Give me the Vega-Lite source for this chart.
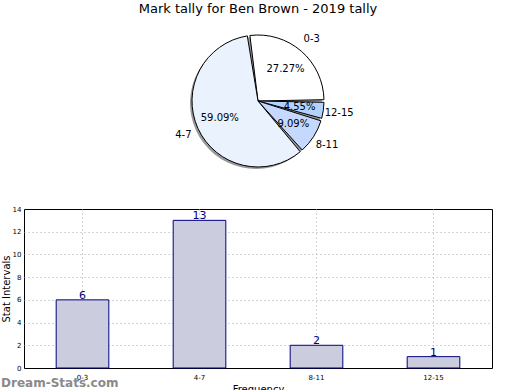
{
  "$schema": "https://vega.github.io/schema/vega-lite/v6.json",
  "padding": {"left": 0, "top": 3, "right": 5, "bottom": 0},
  "spacing": 24,
  "config": {"font": "DejaVu Sans", "view": {"stroke": null}},
  "vconcat": [
    {
      "width": 468,
      "height": 158,
      "title": {"text": "Mark tally for Ben Brown - 2019 tally", "fontSize": 13, "fontWeight": "normal", "color": "black", "offset": 6},
      "data": {"values": [
        {"label": "0-3", "value": 6, "pct": "27.27%", "ord": 1},
        {"label": "12-15", "value": 1, "pct": "4.55%", "ord": 2},
        {"label": "8-11", "value": 2, "pct": "9.09%", "ord": 3},
        {"label": "4-7", "value": 13, "pct": "59.09%", "ord": 4}
      ]},
      "encoding": {
        "theta": {"field": "value", "type": "quantitative", "stack": true, "scale": {"range": [-0.1428, 6.1404]}},
        "order": {"field": "ord", "type": "quantitative"}
      },
      "layer": [
        {
          "mark": {"type": "arc", "outerRadius": 66, "padAngle": 0.04, "fill": "#999999", "xOffset": -2, "yOffset": 2}
        },
        {
          "mark": {"type": "arc", "outerRadius": 66, "padAngle": 0.04, "stroke": "black", "strokeWidth": 1},
          "encoding": {
            "color": {"field": "label", "type": "nominal", "legend": null,
              "scale": {"domain": ["0-3", "4-7", "8-11", "12-15"], "range": ["#ffffff", "#eaf2fe", "#c5d9fe", "#b3d3fe"]}}
          }
        },
        {
          "mark": {"type": "text", "radius": 42, "fontSize": 10, "color": "black"},
          "encoding": {"text": {"field": "pct", "type": "nominal"}}
        },
        {
          "mark": {"type": "text", "radius": 82, "fontSize": 10, "color": "black"},
          "encoding": {"text": {"field": "label", "type": "nominal"}}
        }
      ]
    },
    {
      "width": 468,
      "height": 159,
      "view": {"stroke": "black", "strokeWidth": 1},
      "title": {"text": "Dream-Stats.com", "orient": "bottom", "anchor": "start", "frame": "bounds", "fontSize": 12, "fontWeight": "bold", "color": "#8a8a8a", "opacity": 0.85, "offset": -16},
      "data": {"values": [
        {"freq": "0-3", "count": 6},
        {"freq": "4-7", "count": 13},
        {"freq": "8-11", "count": 2},
        {"freq": "12-15", "count": 1}
      ]},
      "encoding": {
        "x": {"field": "freq", "type": "nominal", "sort": null,
          "scale": {"paddingInner": 0.55, "paddingOuter": 0.275},
          "axis": {"title": "Frequency", "titleFontSize": 10, "titleFontWeight": "normal", "titleColor": "black", "titlePadding": 4,
            "labelFontSize": 7, "labelAngle": 0, "labelColor": "black", "labelPadding": 5,
            "ticks": false, "domain": false, "grid": true, "bandPosition": 0.5,
            "gridColor": "#aaaaaa", "gridDash": [1, 3], "gridWidth": 1}},
        "y": {"field": "count", "type": "quantitative",
          "scale": {"domain": [0, 14]},
          "axis": {"title": "Stat Intervals", "titleFontSize": 10, "titleFontWeight": "normal", "titleColor": "black", "titlePadding": 1,
            "values": [0, 2, 4, 6, 8, 10, 12, 14], "labelFontSize": 7, "labelColor": "black", "labelPadding": 3,
            "ticks": false, "domain": false, "grid": true,
            "gridColor": {"condition": {"test": "datum.value === 14 || datum.value === 0", "value": "transparent"}, "value": "#aaaaaa"},
            "gridDash": [1, 3], "gridWidth": 1}}
      },
      "layer": [
        {"mark": {"type": "bar", "fill": "#ccccdf", "stroke": "#000080", "strokeWidth": 1}},
        {"mark": {"type": "text", "baseline": "bottom", "dy": 1, "fontSize": 11, "color": "#000080"},
          "encoding": {"text": {"field": "count", "type": "quantitative"}}}
      ]
    }
  ]
}
